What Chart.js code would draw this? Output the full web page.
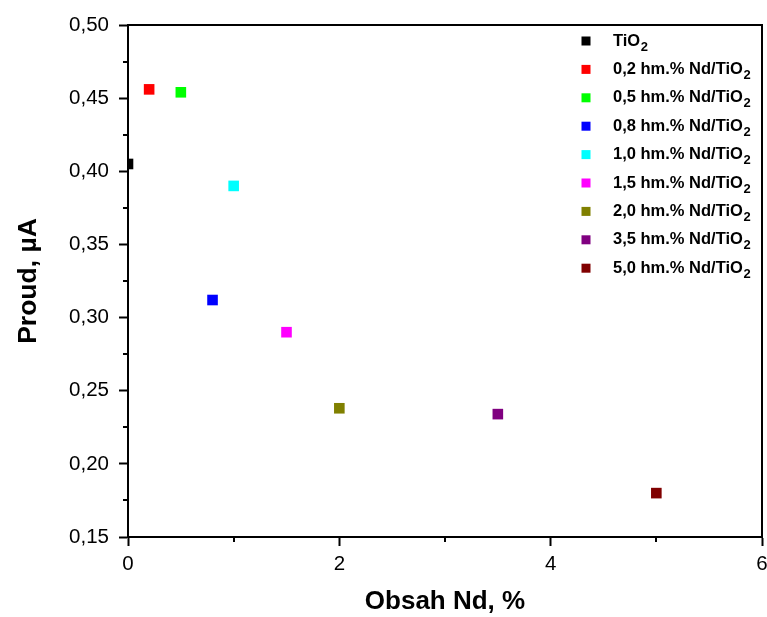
<!DOCTYPE html>
<html lang="cs">
<head>
    <meta charset="UTF-8">
    <title>Proud vs. obsah Nd</title>
    <script src="https://cdn.jsdelivr.net/npm/chart.js"></script>
    <style>
        body {
            margin: 0;
            padding: 0;
            background: #ffffff;
        }
        #wrap {
            width: 767px;
            height: 617px;
            position: relative;
        }
    </style>
</head>
<body>
    <div id="wrap">
        <canvas id="chart"></canvas>
    </div>

    <script>
        // samples, Nd content (%) and measured current (uA)
        const samples = ['TiO2', '0,2 hm.% Nd/TiO2', '0,5 hm.% Nd/TiO2', '0,8 hm.% Nd/TiO2', '1,0 hm.% Nd/TiO2',
                         '1,5 hm.% Nd/TiO2', '2,0 hm.% Nd/TiO2', '3,5 hm.% Nd/TiO2', '5,0 hm.% Nd/TiO2'];
        const ndContent = [0, 0.2, 0.5, 0.8, 1.0, 1.5, 2.0, 3.5, 5.0];
        const current = [0.405, 0.456, 0.454, 0.312, 0.390, 0.290, 0.238, 0.234, 0.180];
        const colors = ['#000000', '#ff0000', '#00ff00', '#0000ff', '#00ffff', '#ff00ff', '#808000', '#800080', '#800000'];

        const xTicks = [0, 2, 4, 6];
        const yTicks = [0.15, 0.20, 0.25, 0.30, 0.35, 0.40, 0.45, 0.50];

        const FONT = '"Liberation Sans", Arial, sans-serif';

        const datasets = samples.map((name, i) => ({
            label: name,
            data: [{ x: ndContent[i], y: current[i] }],
            backgroundColor: colors[i],
            borderColor: colors[i],
            borderWidth: 0,
            pointStyle: 'rect',
            pointRadius: 7.5,
            clip: 0
        }));

        // frame, minor ticks and legend with subscripts
        const extras = {
            id: 'extras',
            afterDraw(chart) {
                const ctx = chart.ctx;
                const a = chart.chartArea;
                const xs = chart.scales.x;
                const ys = chart.scales.y;
                ctx.save();
                ctx.strokeStyle = '#000';
                ctx.lineWidth = 2;
                ctx.beginPath();
                ctx.moveTo(a.left, a.top);
                ctx.lineTo(a.right, a.top);
                ctx.lineTo(a.right, a.bottom);
                ctx.stroke();

                // minor ticks
                ctx.beginPath();
                for (let i = 0; i < yTicks.length - 1; i++) {
                    const py = Math.round(ys.getPixelForValue((yTicks[i] + yTicks[i + 1]) / 2));
                    ctx.moveTo(a.left - 5, py);
                    ctx.lineTo(a.left, py);
                }
                for (let i = 0; i < xTicks.length - 1; i++) {
                    const px = Math.round(xs.getPixelForValue((xTicks[i] + xTicks[i + 1]) / 2));
                    ctx.moveTo(px, a.bottom);
                    ctx.lineTo(px, a.bottom + 5);
                }
                ctx.stroke();

                // legend
                const lx = 586, tx = 613, ly0 = 41, step = 28.4;
                ctx.textBaseline = 'middle';
                ctx.textAlign = 'left';
                chart.data.datasets.forEach((ds, i) => {
                    const y = ly0 + i * step;
                    ctx.fillStyle = ds.backgroundColor;
                    ctx.fillRect(lx - 4.5, y - 4.5, 9, 9);
                    ctx.fillStyle = '#000';
                    let main = ds.label, sub = '';
                    if (/O2$/.test(main)) {
                        main = main.slice(0, -1);
                        sub = '2';
                    }
                    ctx.font = 'bold 16.5px ' + FONT;
                    ctx.fillText(main, tx, y);
                    const w = ctx.measureText(main).width;
                    if (sub) {
                        ctx.font = 'bold 13px ' + FONT;
                        ctx.fillText(sub, tx + w + 0.5, y + 6);
                    }
                });
                ctx.restore();
            }
        };

        const ctx = document.getElementById('chart').getContext('2d');
        new Chart(ctx, {
            type: 'scatter',
            data: { datasets: datasets },
            options: {
                responsive: true,
                maintainAspectRatio: false,
                animation: false,
                layout: {
                    autoPadding: false,
                    padding: { top: 25, right: 5, left: 0, bottom: 0 }
                },
                plugins: {
                    legend: { display: false },
                    tooltip: { enabled: false }
                },
                scales: {
                    x: {
                        type: 'linear',
                        min: 0,
                        max: 6,
                        afterBuildTicks: s => { s.ticks = xTicks.map(v => ({ value: v })); },
                        afterFit: s => { s.height = 80; s.paddingLeft = 0; s.paddingRight = 0; },
                        grid: {
                            drawOnChartArea: false,
                            drawTicks: true,
                            tickLength: 9,
                            tickWidth: 2,
                            tickColor: '#000'
                        },
                        border: { display: true, color: '#000', width: 2 },
                        ticks: {
                            color: '#000',
                            padding: 6,
                            maxRotation: 0,
                            font: { family: FONT, size: 20.5 },
                            callback: v => String(v)
                        },
                        title: {
                            display: true,
                            text: 'Obsah Nd, %',
                            color: '#000',
                            padding: { top: 0, bottom: 0 },
                            font: { family: FONT, size: 26, weight: 'bold' }
                        }
                    },
                    y: {
                        type: 'linear',
                        min: 0.15,
                        max: 0.50,
                        afterBuildTicks: s => { s.ticks = yTicks.map(v => ({ value: v })); },
                        afterFit: s => { s.width = 128; s.paddingTop = 0; s.paddingBottom = 0; },
                        grid: {
                            drawOnChartArea: false,
                            drawTicks: true,
                            tickLength: 9,
                            tickWidth: 2,
                            tickColor: '#000'
                        },
                        border: { display: true, color: '#000', width: 2 },
                        ticks: {
                            color: '#000',
                            padding: 10,
                            font: { family: FONT, size: 20.5 },
                            callback: v => v.toFixed(2).replace('.', ',')
                        },
                        title: {
                            display: true,
                            text: 'Proud, \u00b5A',
                            color: '#000',
                            padding: { top: 13, bottom: 0 },
                            font: { family: FONT, size: 26.5, weight: 'bold' }
                        }
                    }
                }
            },
            plugins: [extras]
        });
    </script>
</body>
</html>
